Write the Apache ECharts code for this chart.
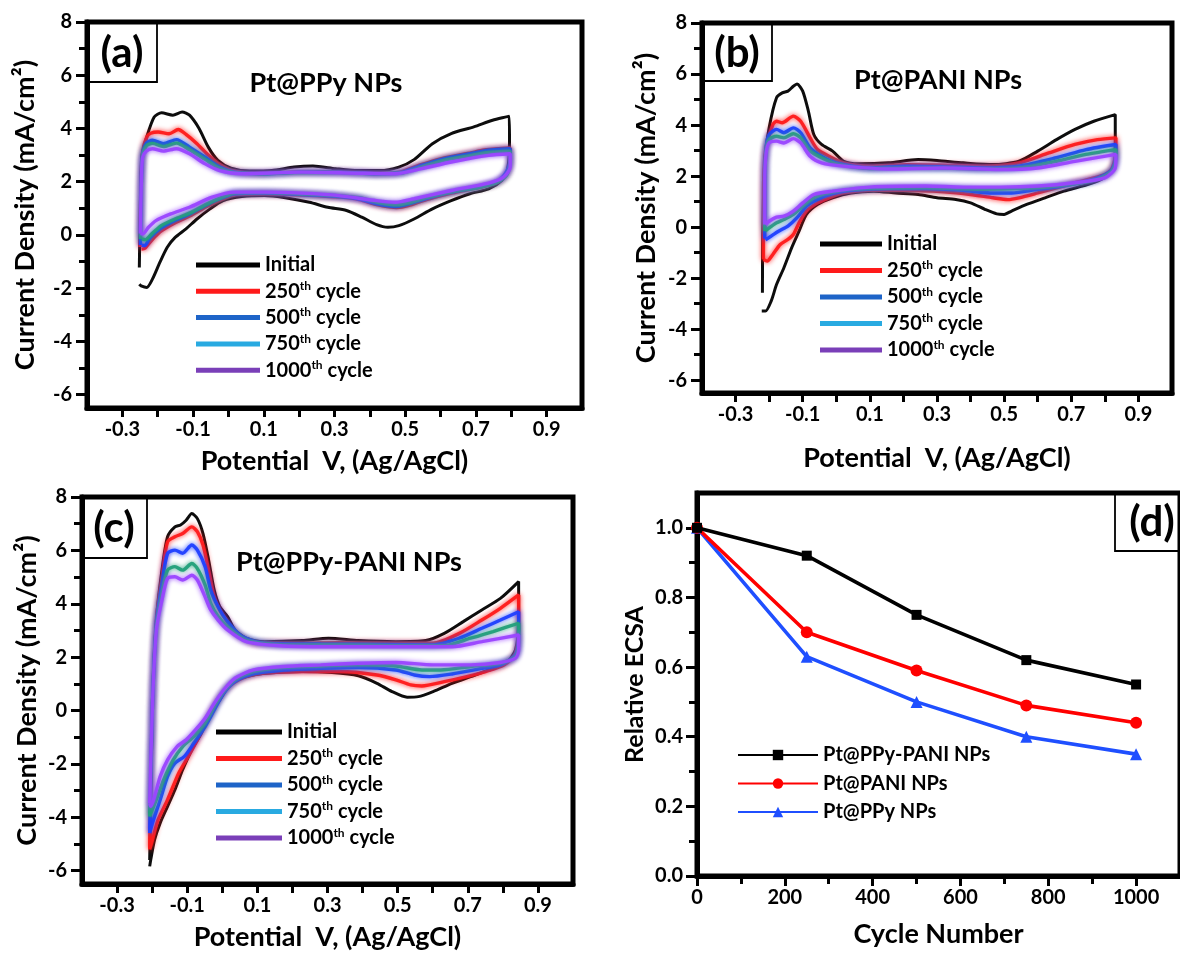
<!DOCTYPE html>
<html><head><meta charset="utf-8">
<script src="https://cdn.jsdelivr.net/npm/echarts@6/dist/echarts.min.js"></script>
<style>html,body{margin:0;padding:0;background:#fff}#c{width:1180px;height:954px}</style>
</head><body><div id="c"></div>
<script>
// ---------- tick labels ----------
const cvXLabels = [-0.3, -0.1, 0.1, 0.3, 0.5, 0.7, 0.9];
const cvXTicks = [-0.3, -0.2, -0.1, 0, 0.1, 0.2, 0.3, 0.4, 0.5, 0.6, 0.7, 0.8, 0.9];
const cvYLabels = [-6, -4, -2, 0, 2, 4, 6, 8];
const cvYMinor = [-5, -3, -1, 1, 3, 5, 7];
const dXLabels = [0, 200, 400, 600, 800, 1000];
const dXMinor = [100, 300, 500, 700, 900];
const dYLabels = [0, 0.2, 0.4, 0.6, 0.8, 1.0];
const dYMinor = [0.1, 0.3, 0.5, 0.7, 0.9];

// ---------- legends / names ----------
const cycleNames = ['Initial', '250th cycle', '500th cycle', '750th cycle', '1000th cycle'];
const panelTitles = ['Pt@PPy NPs', 'Pt@PANI NPs', 'Pt@PPy-PANI NPs'];
const dNames = ['Pt@PPy-PANI NPs', 'Pt@PANI NPs', 'Pt@PPy NPs'];

// ---------- (a) Pt@PPy NPs : [potential V, current mA/cm2] ----------
const a_initial = [[-0.252,-1.22],[-0.249,1.29],[-0.245,2.93],[-0.231,3.68],[-0.210,4.43],[-0.189,4.59],[-0.157,4.50],[-0.131,4.62],[-0.110,4.50],[-0.083,4.00],[-0.057,3.30],[-0.030,2.80],[0.007,2.51],[0.059,2.40],[0.123,2.42],[0.186,2.55],[0.239,2.59],[0.303,2.49],[0.366,2.42],[0.429,2.42],[0.482,2.55],[0.525,2.83],[0.577,3.43],[0.630,3.81],[0.694,4.06],[0.747,4.31],[0.794,4.46],[0.795,3.56],[0.789,2.42],[0.773,2.05],[0.736,1.73],[0.683,1.55],[0.630,1.29],[0.577,0.98],[0.525,0.60],[0.482,0.35],[0.451,0.29],[0.419,0.39],[0.377,0.67],[0.334,0.92],[0.281,1.04],[0.229,1.23],[0.165,1.39],[0.102,1.48],[0.038,1.44],[-0.015,1.29],[-0.052,0.98],[-0.089,0.60],[-0.120,0.23],[-0.152,-0.11],[-0.173,-0.46],[-0.194,-1.03],[-0.215,-1.66],[-0.231,-1.97],[-0.247,-1.91],[-0.252,-1.85]];
const a_250 = [[-0.250,-0.45],[-0.248,1.50],[-0.243,3.10],[-0.231,3.68],[-0.220,3.82],[-0.199,3.87],[-0.168,3.80],[-0.142,3.96],[-0.120,3.78],[-0.089,3.43],[-0.057,3.00],[-0.030,2.70],[0.012,2.42],[0.096,2.31],[0.202,2.37],[0.307,2.37],[0.413,2.31],[0.487,2.37],[0.540,2.62],[0.603,2.87],[0.677,3.06],[0.730,3.20],[0.797,3.27],[0.797,2.80],[0.787,2.30],[0.760,1.97],[0.708,1.78],[0.634,1.58],[0.560,1.33],[0.508,1.10],[0.476,1.03],[0.423,1.13],[0.370,1.33],[0.318,1.42],[0.212,1.50],[0.106,1.55],[0.022,1.52],[-0.020,1.33],[-0.063,1.06],[-0.105,0.74],[-0.148,0.48],[-0.190,0.15],[-0.216,-0.18],[-0.236,-0.50],[-0.246,-0.53]];
const a_500 = [[-0.249,-0.38],[-0.247,1.50],[-0.243,3.00],[-0.232,3.45],[-0.215,3.56],[-0.184,3.43],[-0.147,3.58],[-0.110,3.30],[-0.067,2.93],[-0.025,2.55],[0.017,2.36],[0.102,2.30],[0.207,2.36],[0.313,2.36],[0.419,2.30],[0.493,2.36],[0.546,2.61],[0.609,2.86],[0.683,3.05],[0.736,3.18],[0.797,3.24],[0.797,2.80],[0.783,2.30],[0.757,1.98],[0.704,1.80],[0.630,1.61],[0.556,1.36],[0.503,1.14],[0.472,1.07],[0.419,1.17],[0.366,1.36],[0.313,1.44],[0.207,1.52],[0.102,1.57],[0.017,1.55],[-0.025,1.36],[-0.067,1.10],[-0.110,0.79],[-0.152,0.54],[-0.194,0.23],[-0.221,-0.09],[-0.237,-0.40],[-0.245,-0.38]];
const a_750 = [[-0.249,-0.15],[-0.247,1.50],[-0.243,2.95],[-0.232,3.35],[-0.215,3.44],[-0.184,3.32],[-0.147,3.45],[-0.110,3.20],[-0.067,2.85],[-0.025,2.50],[0.017,2.34],[0.102,2.30],[0.207,2.35],[0.313,2.34],[0.419,2.30],[0.493,2.33],[0.546,2.55],[0.609,2.80],[0.683,2.98],[0.736,3.10],[0.797,3.15],[0.797,2.70],[0.787,2.25],[0.760,1.97],[0.708,1.78],[0.634,1.62],[0.560,1.40],[0.508,1.20],[0.476,1.13],[0.423,1.22],[0.370,1.40],[0.318,1.47],[0.212,1.54],[0.106,1.59],[0.022,1.58],[-0.020,1.40],[-0.063,1.15],[-0.105,0.85],[-0.148,0.62],[-0.190,0.35],[-0.216,0.05],[-0.235,-0.18],[-0.245,-0.15]];
const a_1000 = [[-0.249,0.05],[-0.247,1.60],[-0.243,2.90],[-0.232,3.15],[-0.215,3.24],[-0.184,3.15],[-0.147,3.24],[-0.110,3.05],[-0.067,2.68],[-0.025,2.42],[0.038,2.30],[0.207,2.36],[0.366,2.32],[0.472,2.30],[0.546,2.49],[0.630,2.74],[0.736,2.99],[0.797,3.05],[0.797,2.55],[0.778,2.17],[0.736,1.95],[0.630,1.67],[0.525,1.36],[0.472,1.23],[0.419,1.29],[0.313,1.48],[0.207,1.57],[0.102,1.61],[0.017,1.61],[-0.046,1.42],[-0.110,1.04],[-0.163,0.79],[-0.205,0.54],[-0.226,0.29],[-0.242,0.04],[-0.249,0.05]];

// ---------- (b) Pt@PANI NPs ----------
const b_initial = [[-0.220,-2.57],[-0.219,-0.29],[-0.213,2.58],[-0.200,3.89],[-0.178,5.07],[-0.161,5.26],[-0.144,5.33],[-0.128,5.52],[-0.117,5.61],[-0.100,5.33],[-0.083,4.54],[-0.067,3.63],[-0.044,3.24],[-0.011,2.98],[0.022,2.58],[0.067,2.48],[0.156,2.52],[0.244,2.65],[0.300,2.61],[0.378,2.52],[0.467,2.45],[0.544,2.58],[0.600,2.98],[0.656,3.43],[0.711,3.83],[0.767,4.15],[0.831,4.41],[0.831,3.37],[0.828,2.32],[0.811,2.06],[0.778,1.80],[0.733,1.61],[0.678,1.41],[0.622,1.15],[0.567,0.89],[0.522,0.63],[0.500,0.50],[0.478,0.52],[0.444,0.69],[0.400,0.95],[0.356,1.08],[0.300,1.15],[0.244,1.28],[0.178,1.34],[0.111,1.41],[0.044,1.34],[-0.011,1.15],[-0.056,0.89],[-0.089,0.50],[-0.111,-0.16],[-0.133,-0.81],[-0.156,-1.59],[-0.178,-2.25],[-0.194,-2.90],[-0.211,-3.29],[-0.222,-3.29]];
const b_250 = [[-0.217,-1.27],[-0.217,1.02],[-0.211,2.98],[-0.189,4.02],[-0.178,4.15],[-0.161,4.09],[-0.128,4.35],[-0.106,4.15],[-0.078,3.50],[-0.056,3.04],[-0.022,2.78],[0.022,2.52],[0.100,2.39],[0.211,2.45],[0.322,2.43],[0.433,2.39],[0.544,2.52],[0.633,2.91],[0.711,3.24],[0.778,3.43],[0.833,3.50],[0.833,2.98],[0.822,2.32],[0.800,2.06],[0.711,1.74],[0.656,1.54],[0.600,1.34],[0.544,1.15],[0.511,1.08],[0.467,1.15],[0.400,1.28],[0.322,1.38],[0.211,1.44],[0.100,1.44],[0.022,1.34],[-0.022,1.15],[-0.056,0.95],[-0.089,0.63],[-0.111,0.17],[-0.128,-0.29],[-0.144,-0.48],[-0.167,-0.68],[-0.189,-1.07],[-0.206,-1.33],[-0.217,-1.27]];
const b_500 = [[-0.213,-0.45],[-0.213,1.67],[-0.209,3.11],[-0.200,3.63],[-0.178,3.83],[-0.156,3.70],[-0.128,3.89],[-0.106,3.70],[-0.078,3.11],[-0.044,2.78],[0.000,2.52],[0.100,2.32],[0.211,2.39],[0.322,2.36],[0.433,2.32],[0.544,2.39],[0.656,2.72],[0.744,3.04],[0.833,3.24],[0.831,2.58],[0.817,2.19],[0.767,1.87],[0.711,1.70],[0.656,1.57],[0.600,1.48],[0.522,1.34],[0.467,1.34],[0.378,1.44],[0.267,1.51],[0.156,1.51],[0.044,1.44],[-0.011,1.31],[-0.056,1.08],[-0.089,0.82],[-0.117,0.37],[-0.144,0.04],[-0.172,-0.16],[-0.194,-0.35],[-0.211,-0.50]];
const b_750 = [[-0.213,-0.15],[-0.213,1.70],[-0.209,3.00],[-0.200,3.43],[-0.178,3.56],[-0.156,3.50],[-0.128,3.66],[-0.106,3.50],[-0.078,2.98],[-0.044,2.72],[0.000,2.48],[0.100,2.30],[0.322,2.32],[0.433,2.28],[0.544,2.32],[0.656,2.58],[0.744,2.85],[0.833,3.04],[0.831,2.50],[0.817,2.15],[0.767,1.83],[0.656,1.61],[0.544,1.51],[0.433,1.48],[0.267,1.54],[0.044,1.48],[-0.022,1.34],[-0.067,1.15],[-0.100,0.82],[-0.128,0.50],[-0.156,0.30],[-0.178,0.17],[-0.200,-0.03],[-0.211,-0.15]];
const b_1000 = [[-0.213,0.10],[-0.213,1.80],[-0.209,2.90],[-0.200,3.30],[-0.178,3.37],[-0.156,3.30],[-0.128,3.47],[-0.106,3.30],[-0.078,2.78],[-0.044,2.52],[0.022,2.39],[0.156,2.28],[0.322,2.32],[0.489,2.26],[0.600,2.32],[0.711,2.58],[0.833,2.85],[0.831,2.32],[0.800,1.93],[0.711,1.74],[0.600,1.61],[0.489,1.57],[0.378,1.57],[0.267,1.61],[0.100,1.57],[-0.011,1.41],[-0.067,1.28],[-0.100,0.95],[-0.128,0.63],[-0.156,0.43],[-0.178,0.39],[-0.200,0.23],[-0.211,0.10]];

// ---------- (c) Pt@PPy-PANI NPs ----------
const c_initial = [[-0.207,-5.60],[-0.199,0.27],[-0.188,3.39],[-0.172,5.26],[-0.156,6.51],[-0.135,6.88],[-0.119,6.95],[-0.103,7.13],[-0.087,7.38],[-0.071,7.19],[-0.055,6.63],[-0.039,5.64],[-0.023,4.51],[-0.007,3.89],[0.015,3.52],[0.036,3.02],[0.068,2.71],[0.121,2.58],[0.228,2.62],[0.303,2.71],[0.388,2.62],[0.495,2.58],[0.580,2.62],[0.633,2.89],[0.687,3.33],[0.740,3.77],[0.793,4.20],[0.845,4.83],[0.845,3.39],[0.836,2.27],[0.809,1.77],[0.761,1.52],[0.708,1.27],[0.655,1.02],[0.601,0.71],[0.559,0.52],[0.527,0.50],[0.484,0.71],[0.441,1.02],[0.388,1.30],[0.313,1.42],[0.228,1.46],[0.121,1.40],[0.068,1.27],[0.025,1.02],[-0.007,0.40],[-0.039,-0.22],[-0.060,-0.85],[-0.087,-1.47],[-0.113,-2.22],[-0.135,-2.97],[-0.156,-3.59],[-0.177,-4.21],[-0.193,-4.84],[-0.204,-5.59],[-0.207,-5.84]];
const c_250 = [[-0.207,-5.21],[-0.199,0.27],[-0.188,3.39],[-0.172,5.01],[-0.156,6.32],[-0.135,6.51],[-0.113,6.63],[-0.087,6.88],[-0.071,6.70],[-0.055,6.20],[-0.039,5.26],[-0.023,4.26],[-0.007,3.77],[0.015,3.33],[0.047,2.83],[0.100,2.52],[0.228,2.52],[0.335,2.54],[0.495,2.52],[0.601,2.52],[0.676,2.89],[0.740,3.39],[0.793,3.83],[0.845,4.33],[0.845,3.14],[0.836,2.14],[0.804,1.71],[0.751,1.46],[0.697,1.27],[0.633,1.08],[0.569,0.92],[0.537,0.96],[0.495,1.15],[0.441,1.33],[0.335,1.46],[0.228,1.46],[0.121,1.40],[0.057,1.21],[0.015,0.84],[-0.017,0.27],[-0.044,-0.41],[-0.071,-1.10],[-0.097,-1.72],[-0.124,-2.34],[-0.156,-3.34],[-0.183,-4.09],[-0.199,-4.84],[-0.207,-5.21]];
const c_500 = [[-0.207,-4.59],[-0.199,0.27],[-0.188,3.27],[-0.172,4.76],[-0.156,5.89],[-0.135,6.01],[-0.113,5.89],[-0.087,6.20],[-0.071,6.01],[-0.049,5.39],[-0.033,4.51],[-0.012,3.89],[0.015,3.33],[0.057,2.77],[0.121,2.52],[0.281,2.49],[0.441,2.48],[0.601,2.46],[0.676,2.71],[0.740,3.08],[0.793,3.39],[0.845,3.70],[0.845,2.77],[0.836,2.08],[0.793,1.71],[0.729,1.55],[0.655,1.37],[0.591,1.27],[0.548,1.33],[0.495,1.52],[0.388,1.61],[0.281,1.58],[0.175,1.52],[0.089,1.37],[0.036,1.08],[0.004,0.65],[-0.023,0.02],[-0.049,-0.60],[-0.081,-1.22],[-0.108,-1.72],[-0.135,-1.97],[-0.156,-2.47],[-0.177,-3.34],[-0.199,-4.21],[-0.207,-4.59]];
const c_750 = [[-0.207,-3.97],[-0.199,0.27],[-0.188,3.14],[-0.172,4.39],[-0.156,5.26],[-0.135,5.39],[-0.113,5.26],[-0.087,5.51],[-0.071,5.32],[-0.049,4.70],[-0.033,4.01],[-0.012,3.52],[0.015,3.14],[0.068,2.64],[0.175,2.46],[0.335,2.46],[0.495,2.43],[0.633,2.43],[0.708,2.71],[0.772,2.96],[0.845,3.27],[0.845,2.52],[0.836,2.02],[0.793,1.77],[0.708,1.65],[0.623,1.52],[0.569,1.52],[0.495,1.67],[0.388,1.71],[0.281,1.67],[0.175,1.62],[0.089,1.46],[0.036,1.15],[0.004,0.71],[-0.023,0.15],[-0.049,-0.47],[-0.081,-0.97],[-0.113,-1.35],[-0.140,-1.85],[-0.167,-2.59],[-0.188,-3.34],[-0.204,-3.84],[-0.207,-3.97]];
const c_1000 = [[-0.207,-3.47],[-0.199,0.27],[-0.188,3.02],[-0.172,4.14],[-0.156,4.95],[-0.135,5.01],[-0.113,4.89],[-0.087,5.07],[-0.071,4.89],[-0.049,4.26],[-0.033,3.77],[-0.012,3.39],[0.015,3.02],[0.068,2.58],[0.175,2.42],[0.335,2.39],[0.495,2.39],[0.655,2.39],[0.740,2.58],[0.845,2.83],[0.845,2.27],[0.836,1.96],[0.793,1.80],[0.708,1.71],[0.601,1.71],[0.495,1.80],[0.388,1.77],[0.281,1.71],[0.175,1.65],[0.089,1.52],[0.036,1.21],[0.004,0.77],[-0.023,0.27],[-0.049,-0.29],[-0.076,-0.72],[-0.103,-1.10],[-0.129,-1.35],[-0.156,-1.85],[-0.177,-2.47],[-0.193,-3.22],[-0.204,-3.59],[-0.207,-3.47]];

// ---------- (d) relative ECSA ----------
const d_cycles = [0, 250, 500, 750, 1000];
const d_ppyPani = [1.00, 0.92, 0.75, 0.62, 0.55];
const d_pani = [1.00, 0.70, 0.59, 0.49, 0.44];
const d_ppy = [1.00, 0.63, 0.50, 0.40, 0.35];

// ---------- styling ----------
const FONT = 'Lato';
const lineColors = ['#000000', '#ff1a1a', '#1f3fff', '#22a07a', '#9a45ff'];
const legendColors = ['#000000', '#ff1a1a', '#1e64c8', '#29aae1', '#7a3fb8'];
const grids = [
  {left: 87, top: 22, width: 495, height: 386},
  {left: 702, top: 23, width: 470, height: 370},
  {left: 82, top: 497, width: 491, height: 387},
  {left: 697, top: 493, width: 488, height: 383}
];
const xNameGap = [40, 52, 40, 45];
const yNameGap = [48, 42, 41, 50];
const AXW = 5;     // frame / axis line width
const TKW = 3;     // tick width

const tickLabel = {color: '#000', fontFamily: FONT, fontWeight: 'bold', fontSize: 20};
const nameStyle = {color: '#000', fontFamily: FONT, fontWeight: 'bold', fontSize: 27};

const xAxis = [], yAxis = [];
function add(arr, o) { arr.push(o); return arr.length - 1; }
function mainAxis(g, min, max, position, labels, ticks, tickLen, margin, name, gap, fmt, nameSize) {
  return {type: 'value', gridIndex: g, min, max, position,
    name, nameLocation: 'middle', nameGap: gap, nameTextStyle: {...nameStyle, fontSize: nameSize || 27},
    axisLine: {show: true, onZero: false, lineStyle: {color: '#000', width: AXW}},
    axisTick: {show: true, inside: false, customValues: ticks, length: tickLen, lineStyle: {color: '#000', width: TKW}},
    splitLine: {show: false},
    axisLabel: {show: true, customValues: labels, margin, formatter: fmt, ...tickLabel}};
}
function minorAxis(g, min, max, position, vals, len) {
  return {type: 'value', gridIndex: g, min, max, position,
    axisLine: {show: false, onZero: false}, axisLabel: {show: false}, splitLine: {show: false},
    axisTick: {show: true, inside: false, customValues: vals, length: len, lineStyle: {color: '#000', width: TKW}}};
}
const xMain = [], yMain = [];
for (let g = 0; g < 3; g++) {
  xMain[g] = add(xAxis, mainAxis(g, -0.4, 1.0, 'bottom', cvXLabels, cvXTicks, 9, 12, 'Potential  V, (Ag/AgCl)', xNameGap[g], v => v.toFixed(1)));
  yMain[g] = add(yAxis, mainAxis(g, -6.5, 8, 'left', cvYLabels, cvYLabels, 11, 15, 'Current Density (mA/cm\u00B2)', yNameGap[g], v => String(v)));
  add(yAxis, minorAxis(g, -6.5, 8, 'left', cvYMinor, 8));
}
xMain[3] = add(xAxis, mainAxis(3, 0, 1100, 'bottom', dXLabels, dXLabels, 10, 12, 'Cycle Number', xNameGap[3], v => String(v), 27));
add(xAxis, minorAxis(3, 0, 1100, 'bottom', dXMinor, 8));
yMain[3] = add(yAxis, mainAxis(3, 0, 1.1, 'left', dYLabels, dYLabels, 11, 14, 'Relative ECSA', yNameGap[3], v => v.toFixed(1), 25));
add(yAxis, minorAxis(3, 0, 1.1, 'left', dYMinor, 8));

const cvData = [
  [a_initial, a_250, a_500, a_750, a_1000],
  [b_initial, b_250, b_500, b_750, b_1000],
  [c_initial, c_250, c_500, c_750, c_1000]
];
const series = [];
cvData.forEach((panel, g) => {
  panel.forEach((data, k) => {
    const glow = k > 0;
    series.push({type: 'line', name: cycleNames[k], xAxisIndex: xMain[g], yAxisIndex: yMain[g], data: data,
      showSymbol: false, symbol: 'none', smooth: 0.25, silent: true, z: 2 + k,
      lineStyle: {color: lineColors[k], width: glow ? 3.4 : 3, opacity: 0.95,
        shadowBlur: glow ? 5 : 0, shadowColor: glow ? lineColors[k] : 'transparent'},
      itemStyle: {color: lineColors[k]}});
  });
});
const dSeries = [[d_ppyPani, '#000000', 'rect', 10], [d_pani, '#ff0000', 'circle', 12], [d_ppy, '#1f4fff', 'triangle', 12]];
dSeries.forEach(([vals, color, sym, size], i) => {
  series.push({type: 'line', name: dNames[i], xAxisIndex: xMain[3], yAxisIndex: yMain[3],
    data: d_cycles.map((c, j) => [c, vals[j]]), symbol: sym, symbolSize: size, showSymbol: true,
    lineStyle: {color, width: 3.6}, itemStyle: {color}, silent: true, z: 5 - i});
});

const legendText = {
  fontFamily: FONT, fontWeight: 'bold', fontSize: 20, color: '#000', lineHeight: 22,
  rich: {
    n: {fontFamily: FONT, fontWeight: 'bold', fontSize: 20, color: '#000', lineHeight: 22},
    s: {fontFamily: FONT, fontWeight: 'bold', fontSize: 12, color: '#000', lineHeight: 13, verticalAlign: 'top'}
  }
};
function cycleFmt(name) {
  const m = name.match(/^(\d+)th (cycle)$/);
  if (!m) return '{n|' + name + '}';
  return '{n|' + m[1] + '}{s|th}{n| cycle}';
}
function cvLegend(left, top, width, gap) {
  return {orient: 'vertical', left, top, itemWidth: width, itemHeight: 5, itemGap: gap, padding: 0,
    icon: 'rect', selectedMode: false, formatter: cycleFmt, textStyle: legendText,
    data: cycleNames.map((n, k) => ({name: n, itemStyle: {color: legendColors[k]}}))};
}
const legend = [
  cvLegend(196, 254, 64, 4.3),
  cvLegend(820, 233, 62, 4.5),
  cvLegend(216, 721, 66, 4.5),
  {orient: 'vertical', left: 737, top: 744, itemWidth: 80, itemHeight: 13, itemGap: 6.5, padding: 0,
    selectedMode: false, textStyle: {fontFamily: FONT, fontWeight: 'bold', fontSize: 20, color: '#000', lineHeight: 22},
    data: dNames.map(n => ({name: n}))}
];

function box(x, y, w, h) {
  return {type: 'rect', shape: {x, y, width: w, height: h}, style: {fill: 'none', stroke: '#000', lineWidth: 1.8}, z: 10, silent: true};
}
function txt(text, x, y, size) {
  return {type: 'text', x, y, style: {text, fill: '#000', font: 'bold ' + size + 'px ' + FONT, align: 'center', verticalAlign: 'middle'}, z: 11, silent: true};
}
const graphic = [
  box(87, 22, 70, 60), txt('(a)', 122, 53, 42),
  box(702, 23, 70, 58), txt('(b)', 737, 53, 42),
  box(82, 497, 65, 61), txt('(c)', 114, 528, 42),
  box(1115, 493, 80, 58), txt('(d)', 1152, 522, 42),
  txt(panelTitles[0], 326, 83, 27),
  txt(panelTitles[1], 938, 80, 27),
  txt(panelTitles[2], 349, 562, 27)
];

const chart = echarts.init(document.getElementById('c'), null, {renderer: 'canvas', width: 1180, height: 954});
chart.setOption({
  animation: false,
  backgroundColor: '#fff',
  grid: grids.map(g => ({...g, show: true, borderColor: '#000', borderWidth: AXW, backgroundColor: 'transparent', containLabel: false})),
  xAxis, yAxis, series, legend, graphic
});
</script></body></html>
